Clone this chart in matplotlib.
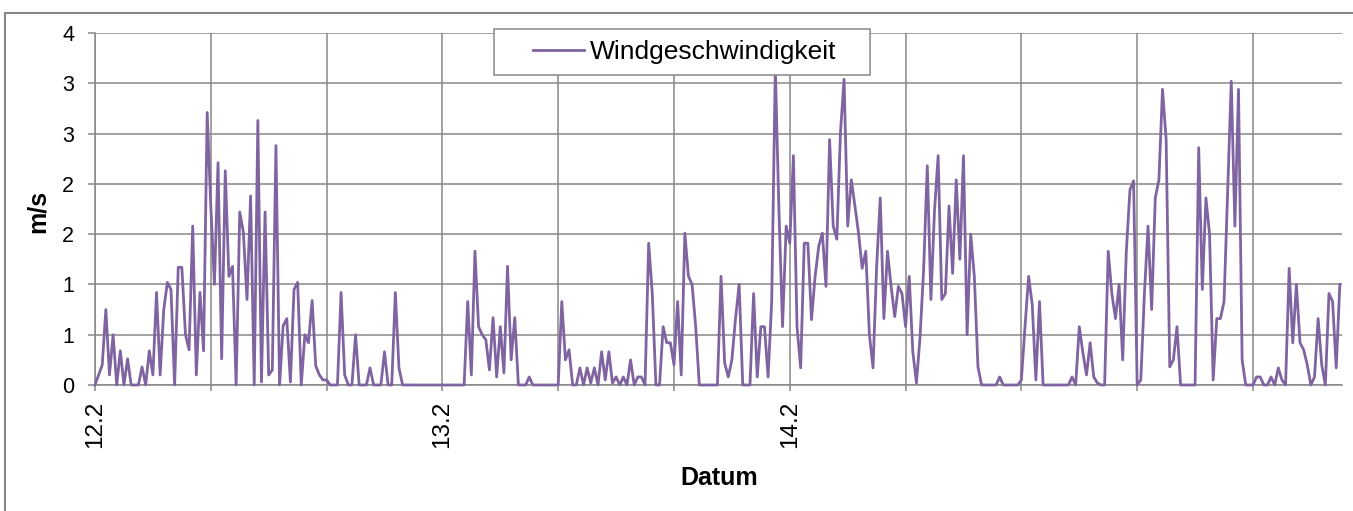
import matplotlib
matplotlib.use("Agg")
import matplotlib.pyplot as plt
from matplotlib.patches import Rectangle
import numpy as np

# Windgeschwindigkeit in m/s, 15-Minuten-Werte, ein Block = 8 Stunden
feb12_00 = [0, 0.1, 0.2, 0.75, 0.1, 0.5, 0, 0.34, 0, 0.26, 0, 0, 0, 0.18, 0, 0.34,
            0.1, 0.92, 0.1, 0.75, 1.02, 0.95, 0, 1.17, 1.17, 0.5, 0.35, 1.58, 0.1, 0.92, 0.34, 2.71]
feb12_08 = [1.78, 1.0, 2.21, 0.26, 2.13, 1.08, 1.18, 0, 1.72, 1.52, 0.85, 1.88, 0, 2.63, 0.03, 1.72,
            0.1, 0.15, 2.38, 0, 0.59, 0.66, 0.03, 0.95, 1.02, 0, 0.5, 0.42, 0.84, 0.19, 0.1, 0.05]
feb12_16 = [0.05, 0, 0, 0, 0.92, 0.1, 0, 0, 0.5, 0, 0, 0, 0.17, 0, 0, 0,
            0.33, 0, 0, 0.92, 0.17, 0, 0, 0, 0, 0, 0, 0, 0, 0, 0, 0]
feb13_00 = [0, 0, 0, 0, 0, 0, 0, 0.83, 0.1, 1.33, 0.58, 0.5, 0.45, 0.15, 0.67, 0.08,
            0.58, 0.12, 1.18, 0.25, 0.67, 0, 0, 0, 0.08, 0, 0, 0, 0, 0, 0, 0]
feb13_08 = [0, 0.83, 0.25, 0.35, 0, 0, 0.17, 0, 0.17, 0.02, 0.17, 0, 0.33, 0.05, 0.33, 0.02,
            0.08, 0, 0.08, 0, 0.25, 0, 0.08, 0.08, 0, 1.41, 0.91, 0, 0, 0.58, 0.42, 0.42]
feb13_16 = [0.2, 0.83, 0.1, 1.51, 1.08, 1.0, 0.58, 0, 0, 0, 0, 0, 0, 1.08, 0.22, 0.08,
            0.25, 0.66, 1.0, 0, 0, 0, 0.91, 0.08, 0.58, 0.58, 0.08, 0.83, 3.15, 1.74, 0.58, 1.58]
feb14_00 = [1.41, 2.28, 0.58, 0.17, 1.41, 1.41, 0.65, 1.08, 1.38, 1.51, 0.98, 2.44, 1.58, 1.45, 2.51, 3.04,
            1.58, 2.04, 1.78, 1.51, 1.16, 1.33, 0.5, 0.17, 1.18, 1.86, 0.66, 1.33, 0.98, 0.68, 0.98, 0.91]
feb14_08 = [0.58, 1.08, 0.33, 0.02, 0.48, 1.16, 2.18, 0.85, 1.74, 2.28, 0.85, 0.91, 1.78, 1.11, 2.04, 1.25,
            2.28, 0.5, 1.5, 1.08, 0.18, 0, 0, 0, 0, 0, 0.08, 0, 0, 0, 0, 0]
feb14_16 = [0.05, 0.58, 1.08, 0.8, 0.05, 0.83, 0, 0, 0, 0, 0, 0, 0, 0, 0.08, 0,
            0.58, 0.32, 0.1, 0.42, 0.08, 0.02, 0, 0, 1.33, 0.91, 0.66, 1.0, 0.25, 1.33, 1.94, 2.03]
feb15_00 = [0, 0.05, 0.91, 1.58, 0.75, 1.86, 2.04, 2.94, 2.44, 0.18, 0.25, 0.58, 0, 0, 0, 0,
            0, 2.36, 0.95, 1.86, 1.5, 0.05, 0.66, 0.66, 0.83, 1.94, 3.02, 1.58, 2.94, 0.25, 0, 0]
feb15_08 = [0, 0.08, 0.08, 0, 0, 0.08, 0, 0.17, 0.05, 0, 1.16, 0.42, 1.0, 0.42, 0.35, 0.2,
            0, 0.08, 0.66, 0.2, 0, 0.91, 0.83, 0.17, 1.0]

day_labels = ["12.2", "13.2", "14.2"]
ytick_labels = ["0", "1", "1", "2", "2", "3", "3", "4"]

wind = np.concatenate([feb12_00, feb12_08, feb12_16, feb13_00, feb13_08, feb13_16,
                       feb14_00, feb14_08, feb14_16, feb15_00, feb15_08])
hours = np.arange(len(wind)) * 0.25

plt.rcParams["font.family"] = ["Liberation Sans", "DejaVu Sans"]

W, H = 1353, 511
grey = "#878787"
fig = plt.figure(figsize=(W / 100, H / 100), dpi=100)
ax = fig.add_axes([95 / W, 1 - 385 / H, (1342 - 95) / W, (385 - 33) / H])

ax.plot(hours, wind, color="#8064A2", lw=2.0, clip_on=False, zorder=3, label="Windgeschwindigkeit")

ax.set_xlim(0, 86.15)
ax.set_ylim(0, 3.5)
ax.set_yticks(np.arange(0, 3.51, 0.5), labels=ytick_labels)
ax.set_xticks(np.arange(0, 81, 8), minor=True)
ax.set_xticks(np.arange(0, 49, 24), labels=day_labels)

ax.set_axisbelow(True)
ax.grid(True, which="both", axis="x", color=grey, lw=1.1)
ax.grid(True, which="major", axis="y", color=grey, lw=1.1)
ax.tick_params(axis="x", which="both", length=4.5, width=1.1, color=grey)
ax.tick_params(axis="x", which="major", labelsize=17.5, pad=7, labelrotation=90)
ax.tick_params(axis="y", length=5, width=1.1, color=grey, labelsize=15.5, pad=10)
for s in ("top", "right"):
    ax.spines[s].set_visible(False)
for s in ("left", "bottom"):
    ax.spines[s].set_color(grey)
    ax.spines[s].set_linewidth(1.1)

# Legendenkasten wie in Excel
ax.add_patch(Rectangle((494 / W, 1 - 75 / H), (870 - 494) / W, (75 - 29) / H,
                       transform=fig.transFigure, facecolor="white", edgecolor=grey,
                       lw=1.1, zorder=4, clip_on=False))
leg = ax.legend(loc="center left", bbox_to_anchor=(533 / W, 1 - 52 / H),
                bbox_transform=fig.transFigure, frameon=False, fontsize=19,
                borderpad=0, borderaxespad=0, handlelength=1.95, handletextpad=0.2)
leg.set_zorder(5)

fig.text(719 / W, 1 - 485 / H, "Datum", ha="center", va="baseline",
         fontsize=18, fontweight="bold")
fig.text(38 / W, 1 - 211 / H, "m/s", rotation=90, ha="center", va="center",
         fontsize=18, fontweight="bold")

# Rahmen des Diagrammbereichs (oben und links sichtbar)
fig.add_artist(Rectangle((5 / W, -0.1), 1.2, 1.1 - 13.5 / H, transform=fig.transFigure,
                         fill=False, edgecolor=grey, lw=1.5))

fig.savefig("out.png", dpi=100)
